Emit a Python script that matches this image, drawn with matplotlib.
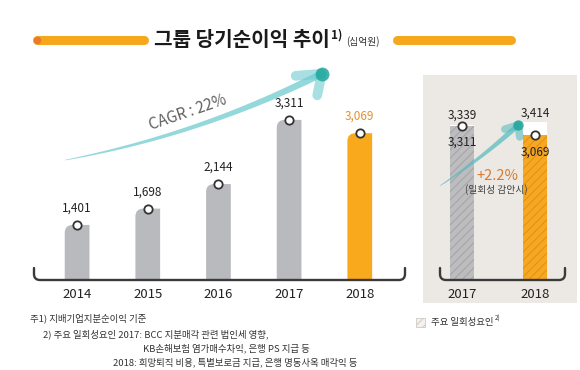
import matplotlib
matplotlib.use('Agg')
import numpy as np
import matplotlib.pyplot as plt
from matplotlib.patches import Rectangle, PathPatch, Polygon
from matplotlib.path import Path
from matplotlib.lines import Line2D
from matplotlib.transforms import IdentityTransform

plt.rcParams['font.family'] = ['Noto Sans CJK KR', 'DejaVu Sans']
plt.rcParams['hatch.linewidth'] = 0.7

# ---------------- data ----------------
years = ['2014', '2015', '2016', '2017', '2018']
net_income = [1401, 1698, 2144, 3311, 3069]
adj_years = ['2017', '2018']
adj_reported = [3311, 3069]
adj_excl_oneoff = [3339, 3414]
cagr_label = 'CAGR : 22%'
adj_growth_label = '+2.2%'
adj_growth_note = '(일회성 감안시)'
title = '그룹 당기순이익 추이'
title_sup = '1)'
unit_label = '(십억원)'
footnotes = ['주1) 지배기업지분순이익 기준',
             '2) 주요 일회성요인 2017: BCC 지분매각 관련 법인세 영향,',
             'KB손해보험 염가매수차익, 은행 PS 지급 등',
             '2018: 희망퇴직 비용, 특별보로금 지급, 은행 명동사옥 매각익 등']
legend_label = '주요 일회성요인'

# ---------------- style ----------------
GRAY = '#b9babd'
ORANGE = '#f8a91c'
ORANGE_TXT = '#e4902a'
TEAL = '#6fcbcf'
TEAL_DARK = '#1fa79d'
DARK = '#222222'
NOTE = '#333333'
W, H = 580, 370

fig = plt.figure(figsize=(W / 100, H / 100), dpi=100)
fig.patch.set_facecolor('white')


def fx(px):
    return px / W


def fy(py):
    return 1 - py / H


def bracket(ax, rise_px=12, r_px=6, color='#3a3a3a', lw=1.7):
    bb = ax.get_position()
    wpx, hpx = bb.width * W, bb.height * H
    rx, ry = r_px / wpx, r_px / hpx
    up = rise_px / hpx
    verts = [(0, up), (0, ry), (0, 0), (rx, 0), (1 - rx, 0), (1, 0), (1, ry), (1, up)]
    codes = [Path.MOVETO, Path.LINETO, Path.CURVE3, Path.CURVE3, Path.LINETO,
             Path.CURVE3, Path.CURVE3, Path.LINETO]
    ax.add_patch(PathPatch(Path(verts, codes), transform=ax.transAxes, fill=False,
                           edgecolor=color, lw=lw, clip_on=False, zorder=5,
                           capstyle='round'))


def round_top_left(ax, bars, r_px=8):
    """Replace each bar rectangle by the same shape with a rounded top-left corner."""
    for rect in bars:
        x0, y0 = rect.get_x(), rect.get_y()
        w, h = rect.get_width(), rect.get_height()
        (px0, py0), (px1, py1) = ax.transData.transform([(x0, y0), (x0 + w, y0 + h)])
        inv = ax.transData.inverted()
        rx = inv.transform((px0 + r_px, py1))[0] - x0
        ry = (y0 + h) - inv.transform((px0, py1 - r_px))[1]
        top = y0 + h
        verts = [(x0, y0), (x0, top - ry), (x0, top), (x0 + rx, top),
                 (x0 + w, top), (x0 + w, y0), (x0, y0)]
        codes = [Path.MOVETO, Path.LINETO, Path.CURVE3, Path.CURVE3,
                 Path.LINETO, Path.LINETO, Path.CLOSEPOLY]
        ax.add_patch(PathPatch(Path(verts, codes), facecolor=rect.get_facecolor(),
                               edgecolor='none', zorder=rect.get_zorder()))
        rect.set_visible(False)


def swoosh(ax, p0, p1, rad, w0, w1, prong_a, prong_b, prong_w, dot_ms,
           color=TEAL, alpha=0.75, z=3):
    """Tapered curved arrow (thin tail, thick near head) with a chevron head."""
    P0 = ax.transData.transform(p0)
    P1 = ax.transData.transform(p1)
    d = P1 - P0
    C = (P0 + P1) / 2 + rad * np.array([d[1], -d[0]])
    t = np.linspace(0, 1, 60)[:, None]
    pts = (1 - t) ** 2 * P0 + 2 * (1 - t) * t * C + t ** 2 * P1
    tan = 2 * (1 - t) * (C - P0) + 2 * t * (P1 - C)
    tan = tan / np.linalg.norm(tan, axis=1, keepdims=True)
    nrm = np.column_stack([-tan[:, 1], tan[:, 0]])
    wid = (w0 + (w1 - w0) * t[:, 0] ** 0.8)[:, None] / 2
    poly = np.vstack([pts + nrm * wid, (pts - nrm * wid)[::-1]])
    fig.add_artist(Polygon(poly, closed=True, transform=IdentityTransform(),
                           facecolor=color, edgecolor='none', alpha=alpha, zorder=z))
    back = np.degrees(np.arctan2(-tan[-1, 1], -tan[-1, 0]))
    for ang, ln in prong_a, prong_b:
        a = np.radians(back + ang)
        end = P1 + ln * np.array([np.cos(a), np.sin(a)])
        fig.add_artist(Line2D([P1[0], end[0]], [P1[1], end[1]],
                              transform=IdentityTransform(), lw=prong_w,
                              color=color, alpha=0.6, solid_capstyle='round', zorder=z))
    fig.add_artist(Line2D([P1[0]], [P1[1]], transform=IdentityTransform(), marker='o',
                          ms=dot_ms, mfc=TEAL_DARK, mec='none', alpha=0.85, zorder=z))


# right panel background
fig.patches.append(Rectangle((fx(423), fy(303)), fx(577) - fx(423), (303 - 75) / H,
                             transform=fig.transFigure, facecolor='#ece9e4',
                             edgecolor='none', zorder=-1))

# ---------------- left chart ----------------
ax = fig.add_axes([fx(34), fy(280), 371 / W, 220 / H])
ax.set_xlim(-0.61, 4.64)
ax.set_ylim(400, 4400)
for s in ax.spines.values():
    s.set_visible(False)
ax.patch.set_visible(False)
x = np.arange(len(years))
colors = [GRAY] * (len(years) - 1) + [ORANGE]
bars = ax.bar(x, np.array(net_income) - 400, bottom=400, width=0.35, color=colors, zorder=2)
round_top_left(ax, bars)
ax.plot(x, net_income, 'o', ms=6, mfc='white', mec='#333333', mew=1.3, zorder=3)
for i, v in enumerate(net_income):
    ax.annotate(f'{v:,}', (i, v), xytext=(0, 12), textcoords='offset points',
                ha='center', va='center', fontsize=8.5,
                color=ORANGE_TXT if i == len(years) - 1 else DARK)
ax.set_xticks(x)
ax.set_xticklabels(years, fontsize=9.5, color=DARK)
ax.set_yticks([])
ax.tick_params(axis='x', length=0, pad=6)
bracket(ax)

# CAGR arrow
swoosh(ax, (-0.17, 2580), (3.46, 4150), rad=0.07, w0=0.5, w1=7,
       prong_a=(-22, 26), prong_b=(52, 22), prong_w=7, dot_ms=10, z=1)
fig.text(fx(188), fy(113), cagr_label, rotation=19, ha='center', va='center',
         fontsize=11, color='#606060')

# ---------------- right chart ----------------
FLOOR_R = -700
ax2 = fig.add_axes([fx(440), fy(280), 125 / W, 205 / H])
ax2.set_xlim(-0.30, 1.41)
ax2.set_ylim(FLOOR_R, 4630)
for s in ax2.spines.values():
    s.set_visible(False)
ax2.patch.set_visible(False)
x2 = np.arange(len(adj_years))
rep = np.array(adj_reported)
exc = np.array(adj_excl_oneoff)
ax2.bar(x2, rep - FLOOR_R, bottom=FLOOR_R, width=0.34, color=['#bdbdc0', '#f7a823'],
        edgecolor=['#a3a3a7', '#e38f12'], hatch='////', linewidth=0, zorder=2)
ax2.bar(x2, exc - rep, bottom=rep, width=0.34, color='white', linewidth=0, zorder=2)
ax2.plot(x2, rep, 'o', ms=6, mfc='white', mec='#333333', mew=1.3, zorder=3)
for i in range(len(adj_years)):
    ax2.annotate(f'{exc[i]:,}', (i, exc[i]), xytext=(0, 6.5), textcoords='offset points',
                 ha='center', va='center', fontsize=8.5, color=DARK, zorder=6)
    ax2.annotate(f'{rep[i]:,}', (i, rep[i]), xytext=(0, -12), textcoords='offset points',
                 ha='center', va='center', fontsize=8.5, color=DARK, zorder=6)
ax2.set_xticks(x2)
ax2.set_xticklabels(adj_years, fontsize=9.5, color=DARK)
ax2.set_yticks([])
ax2.tick_params(axis='x', length=0, pad=6)
bracket(ax2)

swoosh(ax2, (-0.30, 1750), (0.77, 3330), rad=0.04, w0=0.5, w1=5.5,
       prong_a=(-25, 14), prong_b=(55, 12), prong_w=5.5, dot_ms=7.5, color='#5bbcbf', z=1)
fig.text(fx(497), fy(176), adj_growth_label, ha='center', va='center', fontsize=10.5,
         color='#d97a2e')
fig.text(fx(496), fy(190), adj_growth_note, ha='center', va='center', fontsize=7,
         color='#444444')

# ---------------- title ----------------
fig.text(fx(330), fy(40), title, ha='right', va='center', fontsize=14.5,
         weight='bold', color='#1a1a1a')
fig.text(fx(331), fy(35), title_sup, ha='left', va='center', fontsize=8.5,
         weight='bold', color='#1a1a1a')
fig.text(fx(346), fy(42), unit_label, ha='left', va='center', fontsize=7,
         color='#333333')
fig.add_artist(Line2D([fx(37), fx(144)], [fy(40)] * 2, lw=6.5, color='#f6a81c',
                      solid_capstyle='round'))
fig.add_artist(Line2D([fx(37)], [fy(40)], marker='o', ms=5.5, mfc='#eb7a2d',
                      mec='none'))
fig.add_artist(Line2D([fx(397), fx(511)], [fy(40)] * 2, lw=6.5, color='#f6a81c',
                      solid_capstyle='round'))

# ---------------- footnotes ----------------
FN = 6.8
fig.text(fx(30), fy(318), footnotes[0], ha='left', va='center', fontsize=FN, color=NOTE)
fig.text(fx(43), fy(334), footnotes[1], ha='left', va='center', fontsize=FN, color=NOTE)
fig.text(fx(143), fy(348), footnotes[2], ha='left', va='center', fontsize=FN, color=NOTE)
fig.text(fx(113), fy(362), footnotes[3], ha='left', va='center', fontsize=FN, color=NOTE)

# legend
fig.patches.append(Rectangle((fx(416), fy(327)), 9 / W, 9 / H, transform=fig.transFigure,
                             facecolor='#f4f1ee', edgecolor='#cfcac4', lw=0.6,
                             hatch='////', zorder=3))
fig.text(fx(431), fy(322), legend_label, ha='left', va='center', fontsize=FN, color=NOTE)
fig.text(fx(495), fy(319), '2)', ha='left', va='center', fontsize=4.5, color=NOTE)

fig.savefig('out.png', dpi=100, facecolor='white')
